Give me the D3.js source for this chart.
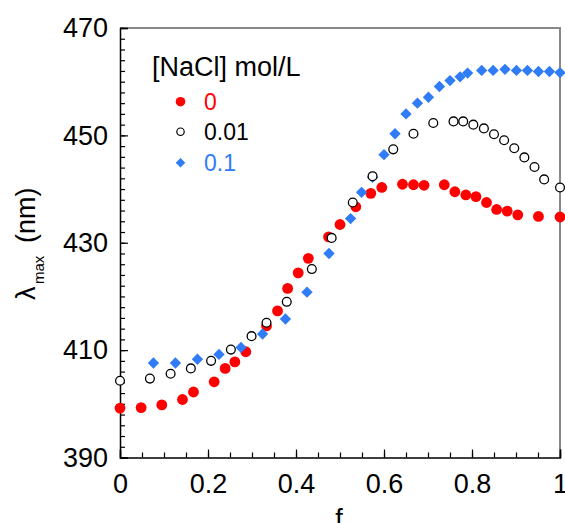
<!DOCTYPE html>
<html>
<head>
<meta charset="utf-8">
<script src="https://cdn.jsdelivr.net/npm/d3@7"></script>
<style>
  html, body { margin: 0; padding: 0; background: #fff; }
  svg { display: block; }
  text { font-family: "Liberation Sans", Arial, sans-serif; }
</style>
</head>
<body>
<svg id="chart" width="565" height="523"></svg>
<script>
// ---- data ----
const seriesNames = ["0", "0.01", "0.1"];
const legendTitle = "[NaCl] mol/L";

const f0 = [0, 0.048, 0.095, 0.142, 0.167, 0.214, 0.239, 0.261, 0.286, 0.333, 0.358, 0.381, 0.405, 0.428, 0.474, 0.5, 0.536, 0.570, 0.595, 0.642, 0.667, 0.691, 0.737, 0.761, 0.786, 0.809, 0.833, 0.856, 0.880, 0.904, 0.951, 1.0];
const l0 = [399.2, 399.3, 399.8, 400.8, 402.2, 404.1, 406.6, 407.8, 409.7, 414.5, 417.3, 421.5, 424.4, 427.1, 431.1, 433.4, 436.7, 439.2, 440.3, 440.9, 440.8, 440.7, 440.8, 439.5, 438.9, 438.6, 437.5, 436.2, 435.9, 435.2, 434.9, 434.8];

const f001 = [0, 0.068, 0.115, 0.161, 0.207, 0.252, 0.299, 0.333, 0.379, 0.436, 0.481, 0.529, 0.574, 0.621, 0.667, 0.712, 0.758, 0.780, 0.803, 0.827, 0.850, 0.873, 0.896, 0.919, 0.942, 0.964, 1.0];
const l001 = [404.3, 404.7, 405.6, 406.6, 408.0, 410.1, 412.6, 415.1, 419.0, 425.1, 430.9, 437.5, 442.4, 447.4, 450.3, 452.3, 452.6, 452.6, 452.0, 451.3, 450.2, 449.1, 447.6, 445.9, 444.1, 441.8, 440.3];

const f01 = [0.076, 0.126, 0.176, 0.225, 0.275, 0.324, 0.376, 0.425, 0.475, 0.524, 0.549, 0.574, 0.600, 0.625, 0.650, 0.676, 0.701, 0.726, 0.750, 0.773, 0.790, 0.822, 0.848, 0.875, 0.901, 0.926, 0.951, 0.976, 1.0];
const l01 = [407.6, 407.6, 408.3, 409.2, 410.5, 413.0, 415.8, 420.8, 428.0, 434.5, 439.4, 442.2, 446.4, 450.3, 454.0, 456.0, 457.1, 459.1, 460.2, 460.9, 461.6, 462.1, 462.1, 462.3, 462.1, 462.1, 461.9, 461.9, 461.7];

const xTicks = [0, 0.2, 0.4, 0.6, 0.8, 1];
const xTickLabels = ["0", "0.2", "0.4", "0.6", "0.8", "1"];
const yTicks = [390, 410, 430, 450, 470];
const yTickLabels = ["390", "410", "430", "450", "470"];

// ---- layout ----
const svg = d3.select("#chart");
const L = 120, R = 560, T = 28, B = 457.5;
const x = d3.scaleLinear().domain([0, 1]).range([L, R]);
const y = d3.scaleLinear().domain([390, 470]).range([B, T]);

const red = "#ff0000", blue = "#2f7cf6";
const FONT = '"Liberation Sans", Arial, sans-serif';

// frame top/right (gray)
svg.append("path")
  .attr("d", `M${L},${T}H${R}V${B}`)
  .attr("fill", "none").attr("stroke", "#888").attr("stroke-width", 2);

// axes
const xMinor = d3.range(0, 1.0001, 0.05);
const yMinor = d3.range(390, 470.001, 2);

const gx = svg.append("g").attr("transform", `translate(0,${B})`);
gx.call(d3.axisBottom(x).tickValues(xMinor).tickSize(-5).tickFormat(""));
gx.call(g => g.select(".domain").remove());
const gx2 = svg.append("g").attr("transform", `translate(0,${B})`);
gx2.call(d3.axisBottom(x).tickValues(xTicks).tickSize(-8).tickPadding(16)
  .tickFormat((d, i) => xTickLabels[i]));
gx2.select(".domain").attr("stroke-width", 1.5);
gx2.selectAll("text").attr("font-size", 27).attr("fill", "#000").attr("font-family", FONT);

const gy = svg.append("g").attr("transform", `translate(${L},0)`);
gy.call(d3.axisLeft(y).tickValues(yMinor).tickSize(-5).tickFormat(""));
gy.call(g => g.select(".domain").remove());
const gy2 = svg.append("g").attr("transform", `translate(${L},0)`);
gy2.call(d3.axisLeft(y).tickValues(yTicks).tickSize(-8).tickPadding(12)
  .tickFormat((d, i) => yTickLabels[i]));
gy2.select(".domain").attr("stroke-width", 1.5);
gy2.selectAll("text").attr("font-size", 27).attr("fill", "#000").attr("font-family", FONT);
svg.selectAll(".tick line").attr("stroke", "#000").attr("stroke-width", 1.2);

// axis titles
svg.append("text").attr("x", 339).attr("y", 528).attr("text-anchor", "middle")
  .attr("font-size", 27).text("f");

const yl = svg.append("g").attr("transform", "translate(35,0) rotate(-90)");
yl.append("text").attr("x", -300).attr("y", 0).attr("font-size", 27).text("λ");
yl.append("text").attr("x", -284).attr("y", 9).attr("font-size", 15).text("max");
yl.append("text").attr("x", -243).attr("y", 0).attr("font-size", 27).text("(nm)");

// data marks
const d0 = f0.map((v, i) => ({ f: v, l: l0[i] }));
const d001 = f001.map((v, i) => ({ f: v, l: l001[i] }));
const d01 = f01.map((v, i) => ({ f: v, l: l01[i] }));

svg.append("g").selectAll("circle").data(d0).join("circle")
  .attr("cx", d => x(d.f)).attr("cy", d => y(d.l)).attr("r", 5.4).attr("fill", red);

const diamond = d3.symbol().type(d3.symbolSquare).size(64);
svg.append("g").selectAll("path").data(d01).join("path")
  .attr("d", diamond)
  .attr("transform", d => `translate(${x(d.f)},${y(d.l)}) rotate(45)`)
  .attr("fill", blue);

svg.append("g").selectAll("circle").data(d001).join("circle")
  .attr("cx", d => x(d.f)).attr("cy", d => y(d.l)).attr("r", 4.4)
  .attr("fill", "#fff").attr("stroke", "#000").attr("stroke-width", 1.3);

// legend
svg.append("text").attr("x", 152).attr("y", 76).attr("font-size", 27).text(legendTitle);
const lg = svg.append("g");
const rowsY = [101.7, 131.7, 162.7];
const legColors = [red, "#000", blue];
lg.append("circle").attr("cx", 180.5).attr("cy", rowsY[0]).attr("r", 4.8).attr("fill", red);
lg.append("circle").attr("cx", 180.5).attr("cy", rowsY[1]).attr("r", 3.7)
  .attr("fill", "#fff").attr("stroke", "#000").attr("stroke-width", 1.2);
lg.append("path").attr("d", d3.symbol().type(d3.symbolSquare).size(46))
  .attr("transform", `translate(180.5,${rowsY[2]}) rotate(45)`).attr("fill", blue);
seriesNames.forEach((s, i) => {
  lg.append("text").attr("x", 204).attr("y", rowsY[i] + 8.5)
    .attr("font-size", 23).attr("fill", legColors[i]).text(s);
});
</script>
</body>
</html>
